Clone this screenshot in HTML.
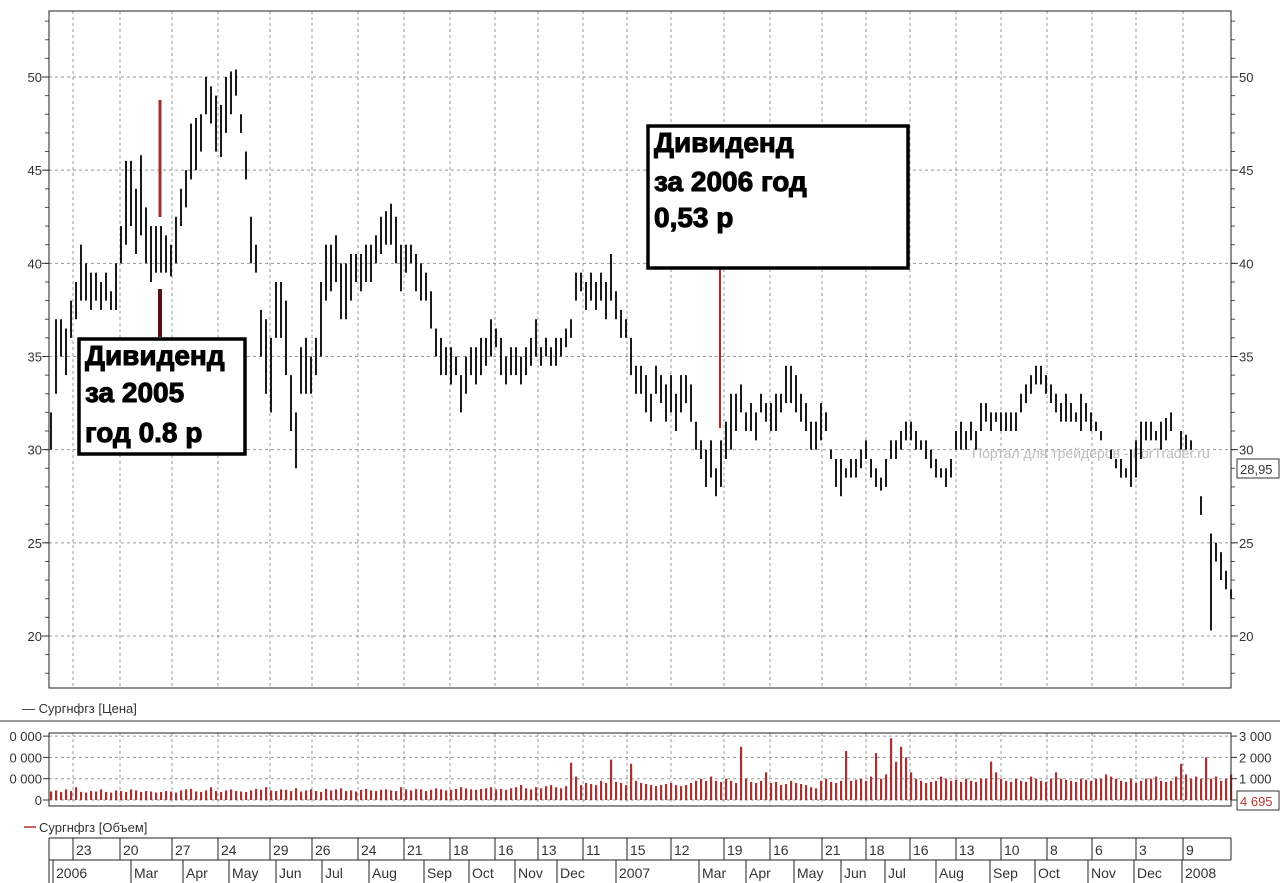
<!DOCTYPE html>
<html><head><meta charset="utf-8">
<style>
body{margin:0;width:1280px;height:883px;background:#fff;overflow:hidden;font-family:"Liberation Sans",sans-serif;}
svg{position:absolute;left:0;top:0}
</style></head>
<body>
<svg id="chart" width="1280" height="883" font-family="Liberation Sans, sans-serif"></svg>
<script>
const hi=[32,37,37,36.5,38,39,41,40,39.5,39.5,39,39.5,38.5,40,42,45.5,45.5,44,45.8,43,42,42,42,41.5,41,42.5,44,45,47.5,47.8,48,50,49.5,49,48.5,50,50.3,50.4,48,46,42.5,41,37.5,37,36,39,39,38,34,32,35.5,36,35,36,39,41,41,41.5,40,40,40.5,40.5,40.5,41,41,41.5,42.5,42.8,43.2,42.5,41,41,41,40.5,40,39.5,38.5,36.5,36,35.5,35.5,35,34,35,35.5,35.5,36,36,37,36.5,36,35,35.5,35.5,35,35.5,36,37,35.5,36,35.5,36,36,36.5,37,39.5,39.5,39,39.5,39,39.5,39,40.5,38.5,37.5,37,36,34.5,34.5,34,33,34.5,34,33.5,34,33,34,34,33.5,31.5,30.5,30,30.5,29,30.5,31.5,33,33,33.5,32,32.5,32,33,32.5,32.5,33,33,34.5,34.5,34,33,32.5,31.5,31.5,32.5,32,30,29.5,29.5,29,29.5,29.5,30,30.5,29.5,29,28.5,29.5,30.5,30.5,31,31.5,31.5,31,30.5,30.5,30,29.5,29,29,29.5,31,31.5,31,31.5,31,32.5,32.5,32,32,32,32,32,32,33,33.5,34,34.5,34.5,34,33.5,33,32.5,33,32.5,32,33,32.5,32,31.5,31,30,30,29.5,29.5,29,30,30.5,31.5,31.5,31.5,31,31.5,31.7,32,31,31,30.8,30.5,29,26.5,25,25.5,25,24.5,23.5,22.5];
const lo=[30,33,35,34,36,37,38,38,37.5,38,37.5,38,37.5,37.5,40,41,42,40.5,41.5,40,39,39.5,39.5,39.5,39.3,40,42,43,44.5,45,46,48,47.5,46,45.7,47,48,49,47,44.5,40,39.5,35,33,32,36,36,34,31,29,33,33,33,34,35,38,38.5,39,37,37,38,39,38.5,39,39,40,40.5,41,41,40,38.5,39.5,40,38.5,38,38,36.5,35,34,34,33.5,34,32,33,34,33.5,34,34.5,35,35.5,34,33.5,34,34,33.5,34,34.5,35,34.5,35,34.5,34.5,35,35.5,36,38,38.5,37.5,38,37.5,38,37,38,37,36,36,34,33,33,32,31.5,33,32.5,31.5,32,31,32,32.5,31.5,30,29.5,28,28.5,27.5,28,29.5,30,31,32,31,31,30.5,32,31.5,31,31,32,32.5,32.5,32,31.5,31,30,30,30.5,31,29.5,28,27.5,28.5,28.5,28.5,29,29.5,28.5,28,27.8,28,29.5,29.5,30,30.5,30.5,30,30,29.5,29,28.5,28.5,28,28.5,30,30,30,30.5,30,31,31.5,31,31.5,31,31,31,31,32,32.5,33,33.5,33.5,33,32.5,32,31.5,31.5,31.5,31.5,31,31.5,31,31,30.5,30,29.5,29,28.5,28.5,28,28.5,29.5,30.5,30.5,30.5,30,30.5,31,31,30,30,30,29,27.5,25,20.3,24,23,22.5,22,21];
const vol=[400,450,380,500,420,600,380,350,420,400,500,380,350,450,420,380,500,450,380,420,400,350,380,420,400,350,450,500,520,400,380,450,600,420,380,450,500,420,400,380,450,520,480,600,450,420,500,480,420,550,400,450,500,420,380,520,450,500,550,420,450,400,480,520,450,420,480,500,450,420,600,500,450,520,500,420,480,550,500,450,480,520,600,550,500,480,520,550,600,500,520,480,550,600,700,550,500,600,550,650,700,600,550,650,1750,1100,700,800,750,700,900,800,1900,850,800,700,1700,900,800,750,700,650,700,750,800,700,650,700,800,900,1000,900,1100,900,850,1000,900,800,2500,1000,850,800,900,1300,800,850,700,750,900,800,750,700,600,550,900,1000,850,800,900,2300,900,950,1000,900,1100,2200,1000,1200,2900,1800,2500,2000,1300,1000,900,800,850,900,1100,1000,900,950,850,1000,900,850,1000,1000,1800,1300,1000,900,850,1000,900,850,1100,1000,900,850,1000,1300,1000,950,900,850,1000,950,900,1000,1000,1200,1100,1000,900,850,1000,800,900,1000,1000,1100,900,850,900,1100,1700,1200,1000,1100,1000,2000,1000,1100,900,1000,1200];
const yTicks=[20,25,30,35,40,45,50];
const volTicks=[0,1000,2000,3000];
const weekLabels=["23","20","27","24","29","26","24","21","18","16","13","11","15","12","19","16","21","18","16","13","10","8","6","3","9"];
const weekX=[73,120,172,218,270,312,358,404,450,495,538,583,627,671,724,770,822,866,910,956,1001,1047,1092,1136,1183];
const monthLabels=["2006","Mar","Apr","May","Jun","Jul","Aug","Sep","Oct","Nov","Dec","2007","Mar","Apr","May","Jun","Jul","Aug","Sep","Oct","Nov","Dec","2008"];
const monthX=[53,131,183,229,276,322,369,424,469,515,557,616,699,746,794,841,885,936,990,1035,1088,1134,1182];

const NS="http://www.w3.org/2000/svg";
const svg=document.getElementById('chart');
function el(tag,attrs,parent){const e=document.createElementNS(NS,tag);for(const k in attrs)e.setAttribute(k,attrs[k]);(parent||svg).appendChild(e);return e;}
const L=49,R=1231,T=11,B=688;
const y=v=>77+(50-v)*18.633;
const x=i=>51+i*(R-L-2)/(hi.length-1);
const vx=i=>51+i*(R-L-2)/(vol.length-1);
const vy=v=>800-v*0.0213;

const g=el('g',{});
weekX.forEach(gx=>{el('line',{x1:gx,x2:gx,y1:T,y2:B,stroke:'#999','stroke-dasharray':'3,3','stroke-width':1},g);el('line',{x1:gx,x2:gx,y1:733,y2:806,stroke:'#999','stroke-dasharray':'3,3','stroke-width':1},g);});
yTicks.forEach(v=>{el('line',{x1:L,x2:R,y1:y(v),y2:y(v),stroke:'#999','stroke-dasharray':'3,3'},g);});
for(let v=18;v<=53;v++){el('line',{x1:L-4,x2:L,y1:y(v),y2:y(v),stroke:'#555'});el('line',{x1:R,x2:R+4,y1:y(v),y2:y(v),stroke:'#555'});}
yTicks.forEach(v=>{
 const t=el('text',{x:42,y:y(v)+5,'text-anchor':'end','font-size':13,fill:'#333'});t.textContent=v;
 
 const t2=el('text',{x:1239,y:y(v)+5,'font-size':13,fill:'#333'});t2.textContent=v;
 
 el('line',{x1:L-7,x2:L,y1:y(v),y2:y(v),stroke:'#333'});el('line',{x1:R,x2:R+7,y1:y(v),y2:y(v),stroke:'#333'});
});
const frame=el('rect',{x:L,y:T,width:R-L,height:B-T,fill:'none',stroke:'#222'});


const wm=el('text',{x:972,y:458,'font-size':14,fill:'#bbb'});wm.textContent='Портал для трейдеров - ForTrader.ru';


hi.forEach((h,i)=>{const b=el('line',{x1:x(i),x2:x(i),y1:y(h),y2:y(lo[i]),stroke:'#000','stroke-width':1.8});
});

el('line',{x1:160,x2:160,y1:100,y2:217,stroke:'#a03030','stroke-width':3});
el('line',{x1:160,x2:160,y1:289,y2:337,stroke:'#5a1010','stroke-width':4});
el('line',{x1:720,x2:720,y1:269,y2:428,stroke:'#c02020','stroke-width':2});
function box(bx,by,w,h,lines,ly,fs,name){
 const r=el('rect',{x:bx,y:by,width:w,height:h,fill:'#fff',stroke:'#000','stroke-width':3.5});
 
 lines.forEach((s,k)=>{const t=el('text',{x:bx+6,y:ly[k],'font-size':fs,'font-weight':'bold',fill:'#000',stroke:'#000','stroke-width':1});t.textContent=s;});
}
box(79,339,166,115,['Дивиденд','за 2005','год 0.8 р'],[365,402,442],28,'dividend-2005-note');
box(648,126,260,142,['Дивиденд','за 2006 год','0,53 р'],[152,191,227],28,'dividend-2006-note');

const lp=el('rect',{x:1237,y:459,width:42,height:19,fill:'#fff',stroke:'#333'});

const lpt=el('text',{x:1240,y:474,'font-size':13,fill:'#333'});lpt.textContent='28,95';

const lg1=el('text',{x:22,y:713,'font-size':13,fill:'#333'});lg1.textContent='—  Сургнфгз [Цена]';

el('line',{x1:0,x2:1280,y1:721,y2:721,stroke:'#999','stroke-width':2});
const lg2=el('text',{x:39,y:832,'font-size':13,fill:'#333'});lg2.textContent='Сургнфгз [Объем]';

el('line',{x1:24,x2:36,y1:827,y2:827,stroke:'#b33','stroke-width':1.5});

volTicks.forEach(v=>{el('line',{x1:L,x2:R,y1:vy(v),y2:vy(v),stroke:'#999','stroke-dasharray':'3,3'});
 el('line',{x1:L-6,x2:L,y1:vy(v),y2:vy(v),stroke:'#333'});el('line',{x1:R,x2:R+6,y1:vy(v),y2:vy(v),stroke:'#333'});
 const t=el('text',{x:42,y:vy(v)+5,'text-anchor':'end','font-size':13,fill:'#333'});t.textContent=v===0?'0':'0 000';
 
 if(v>0){const t2=el('text',{x:1239,y:vy(v)+5,'font-size':13,fill:'#333'});t2.textContent=(v/1000)+' 000';
 }
});
vol.forEach((v,i)=>{const b=el('rect',{x:vx(i)-1,y:vy(v),width:2.2,height:800-vy(v),fill:'#a83232'});
});
const vf=el('rect',{x:L,y:733,width:R-L,height:73,fill:'none',stroke:'#222'});

el('rect',{x:1237,y:791,width:42,height:19,fill:'#fff',stroke:'#333'});
const vl=el('text',{x:1240,y:806,'font-size':13,fill:'#b33'});vl.textContent='4 695';

const ax=el('g',{});
el('line',{x1:L,x2:R,y1:838,y2:838,stroke:'#222'},ax);
el('line',{x1:L,x2:R,y1:860,y2:860,stroke:'#222'},ax);
el('line',{x1:L,x2:L,y1:838,y2:883,stroke:'#222'},ax);
el('line',{x1:R,x2:R,y1:838,y2:860,stroke:'#222'},ax);
weekLabels.forEach((s,k)=>{el('line',{x1:weekX[k],x2:weekX[k],y1:838,y2:860,stroke:'#222'},ax);
 const t=el('text',{x:weekX[k]+3,y:855,'font-size':14,fill:'#333'},ax);t.textContent=s;
 });
monthLabels.forEach((s,k)=>{el('line',{x1:monthX[k],x2:monthX[k],y1:860,y2:883,stroke:'#222'},ax);
 const t=el('text',{x:monthX[k]+3,y:878,'font-size':14,fill:'#333'},ax);t.textContent=s;
 });
</script>
</body></html>
